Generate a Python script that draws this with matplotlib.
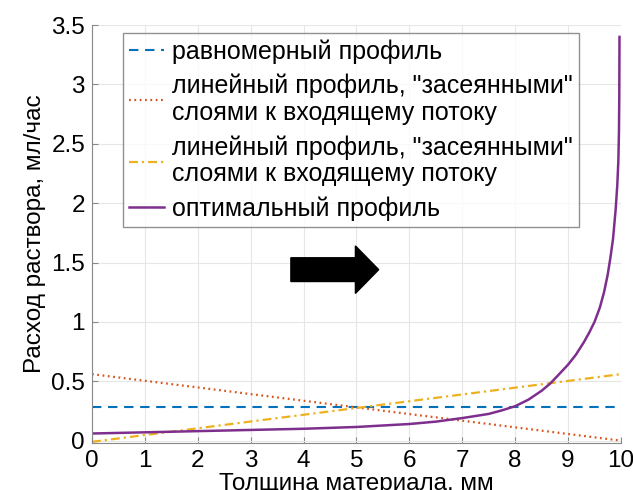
import matplotlib.pyplot as plt
import numpy as np

plt.rcParams['font.family'] = ['Liberation Sans', 'DejaVu Sans']

# толщина материала, мм
x_lin = [0, 10]
uniform = [0.28, 0.28]
linear_down = [0.56, 0.0]
linear_up = [-0.01, 0.56]

x_opt = [0, 1, 2, 3, 4, 5, 6, 6.5, 7, 7.5, 7.75, 8, 8.25, 8.5, 8.66, 8.8, 9,
         9.15, 9.3, 9.4, 9.5, 9.6, 9.68, 9.75, 9.8, 9.85, 9.9, 9.93, 9.95,
         9.962, 9.968, 9.972]
optimal = [0.06, 0.07, 0.08, 0.09, 0.10, 0.115, 0.14, 0.16, 0.19, 0.225,
           0.255, 0.29, 0.345, 0.42, 0.48, 0.545, 0.64, 0.725, 0.83, 0.91,
           1.00, 1.12, 1.25, 1.40, 1.54, 1.70, 1.95, 2.15, 2.35, 2.60, 2.90,
           3.40]

labels = ['равномерный профиль',
          'линейный профиль, "засеянными"\nслоями к входящему потоку',
          'линейный профиль, "засеянными"\nслоями к входящему потоку',
          'оптимальный профиль']

fig = plt.figure(figsize=(6.33, 4.9), dpi=100)
ax = fig.add_axes([0.1453, 0.0959, 0.8357, 0.853])

ax.plot(x_lin, uniform, color='#0072BD', lw=1.5, dashes=(4.5, 3.2), label=labels[0])
ax.plot(x_lin, linear_down, color='#D95319', lw=1.6, dashes=(0.8, 1.6), label=labels[1])
ax.plot(x_lin, linear_up, color='#EDB120', lw=1.6, dashes=(4.0, 1.8, 1.0, 1.8), label=labels[2])
ax.plot(x_opt, optimal, color='#7E2F8E', lw=1.8, label=labels[3])

ax.arrow(3.76, 1.44, 1.66, 0, width=0.2, head_width=0.4, head_length=0.44,
         length_includes_head=True, color='k')

ax.set_xlim(0, 10)
ax.set_ylim(-0.02, 3.5)
ax.set_xticks(range(0, 11))
ax.set_yticks([0, 0.5, 1, 1.5, 2, 2.5, 3, 3.5])
ax.set_yticklabels(['0', '0.5', '1', '1.5', '2', '2.5', '3', '3.5'])
ax.tick_params(direction='in', labelsize=17.5, length=4, color='#888888', pad=5)
ax.grid(True, color='#e6e6e6', lw=0.8)
ax.set_axisbelow(True)
for s in ['top', 'right']:
    ax.spines[s].set_visible(False)
for s in ['left', 'bottom']:
    ax.spines[s].set_color('#888888')

ax.set_xlabel('Толщина материала, мм', fontsize=17.5, labelpad=1)
ax.set_ylabel('Расход раствора, мл/час', fontsize=17.5, labelpad=4)

leg = ax.legend(loc='upper left', bbox_to_anchor=(0.0586, 0.981), fontsize=18,
                frameon=True, fancybox=False, edgecolor='#777777',
                handlelength=1.4, handletextpad=0.3, borderpad=0.25,
                labelspacing=0.4, borderaxespad=0)
leg.get_frame().set_linewidth(1.0)
for t in leg.get_texts():
    t.set_linespacing(1.15)

fig.savefig('out.png', dpi=100)
